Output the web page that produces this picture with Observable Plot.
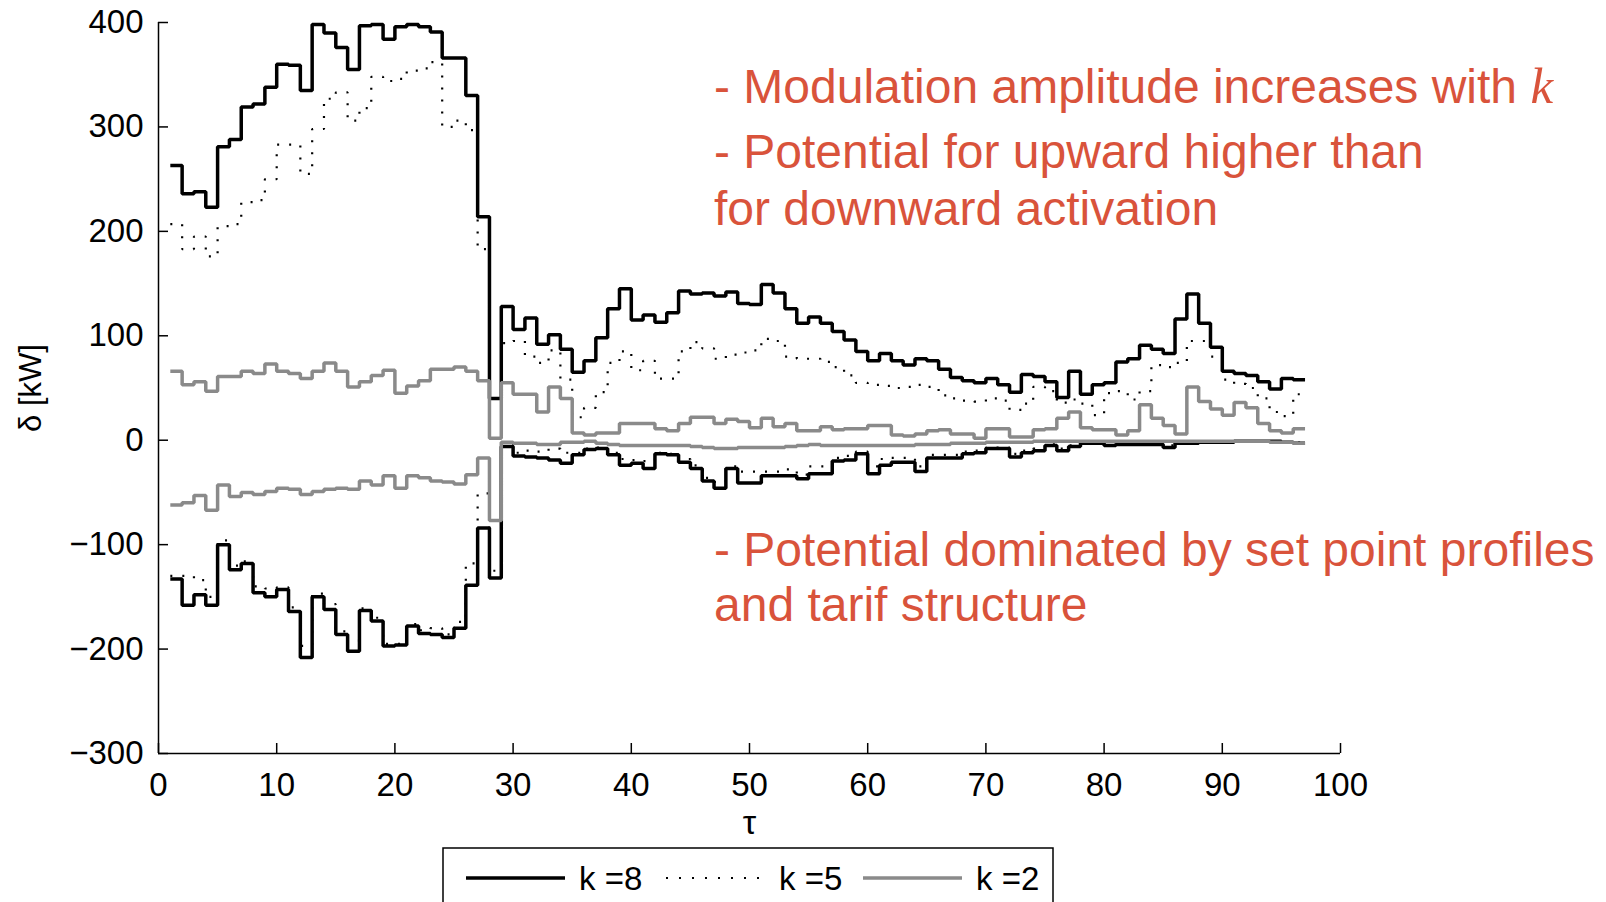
<!DOCTYPE html>
<html><head><meta charset="utf-8">
<script src="https://cdn.jsdelivr.net/npm/d3@7"></script>
<script src="https://cdn.jsdelivr.net/npm/@observablehq/plot@0.6"></script>
<style>
body{margin:0;background:#fff;}
#wrap{position:relative;width:1606px;height:902px;overflow:hidden;font-family:"Liberation Sans",Arial,sans-serif;}
#wrap svg{position:absolute;left:0;top:0;}
.note{position:absolute;left:714px;color:#d9533b;font-size:48px;line-height:48px;white-space:nowrap;}
.note i{font-family:"Liberation Serif",serif;font-style:italic;font-size:51px;}
</style></head><body><div id="wrap"></div>
<script>
// step boundaries tau = 1..97 (96 steps)
const tau = d3.range(1, 98);
const xTicks = [0, 10, 20, 30, 40, 50, 60, 70, 80, 90, 100];
const yTicks = [-300, -200, -100, 0, 100, 200, 300, 400];

const k8Upper = [263,236,238,223,281,288,319,322,338,360,
  359,335,398,390,376,355,397,398,384,396,
  398,396,391,366,366,330,214,40,128,106,
  117,92,101,87,65,76,98,126,145,115,
  120,113,122,143,140,141,138,142,131,130,
  149,141,126,112,118,112,104,96,85,76,
  83,76,72,78,76,68,60,57,55,59,
  53,46,63,61,56,41,66,44,53,55,
  75,78,91,87,83,116,140,112,89,66,
  64,62,56,49,59,58];
const k8Lower = [-133,-158,-148,-158,-100,-124,-118,-146,-150,-143,
  -164,-208,-150,-162,-186,-202,-163,-173,-197,-196,
  -178,-185,-186,-189,-180,-139,-84,-132,-6,-15,
  -16,-17,-19,-22,-14,-9,-8,-14,-24,-22,
  -27,-13,-14,-21,-27,-39,-46,-27,-41,-41,
  -34,-34,-34,-37,-32,-32,-20,-19,-13,-32,
  -24,-21,-21,-30,-17,-17,-17,-13,-12,-8,
  -8,-16,-12,-10,-5,-10,-6,-3,-3,-5,
  -4,-4,-4,-4,-7,-3,-3,-2,-2,-2,
  -1,-1,-1,-1,-2,-3];
const k5Upper = [207,183,195,176,205,207,228,230,250,283,
  283,255,298,327,333,306,318,348,344,346,
  354,356,362,300,306,297,183,38,93,95,
  80,74,86,58,22,31,46,74,85,67,
  76,59,59,85,94,88,78,82,84,86,
  97,95,80,78,78,75,70,62,55,53,
  52,50,51,53,51,43,40,38,37,40,
  38,29,35,51,47,36,39,35,24,45,
  47,39,47,72,70,74,95,95,80,58,
  54,50,40,27,23,44];
const k5Lower = [-130,-130,-134,-150,-96,-120,-116,-140,-142,-141,
  -160,-197,-147,-157,-183,-192,-161,-170,-195,-195,
  -176,-182,-180,-186,-174,-118,-51,-125,-5,-12,
  -10,-11,-8,-12,-12,-8,-7,-12,-18,-19,
  -20,-12,-13,-18,-24,-36,-40,-25,-30,-30,
  -30,-30,-28,-33,-25,-25,-17,-15,-11,-25,
  -18,-17,-17,-25,-14,-14,-14,-11,-10,-7,
  -7,-13,-10,-8,-4,-8,-5,-3,-3,-4,
  -3,-3,-3,-3,-5,-2,-2,-2,-1,-1,
  -1,-1,-1,-1,-2,-2];
const k2Upper = [66,53,56,47,61,61,66,64,73,66,
  64,59,66,74,66,51,56,62,67,45,
  52,57,68,68,70,66,57,2,55,44,
  44,27,51,40,7,5,7,7,16,16,
  16,11,9,16,22,22,16,20,18,12,
  21,13,16,9,9,13,10,11,11,14,
  14,5,4,6,9,10,6,6,2,11,
  11,3,3,10,11,21,27,12,10,10,
  5,9,34,21,14,6,51,37,30,24,
  36,31,16,9,7,11];
const k2Lower = [-62,-60,-53,-67,-43,-54,-50,-52,-49,-46,
  -47,-52,-49,-47,-46,-47,-39,-43,-34,-46,
  -34,-36,-39,-40,-42,-33,-17,-77,-2,-3,
  -3,-4,-4,-2,-2,-1,-3,-4,-5,-5,
  -5,-5,-5,-5,-6,-7,-8,-8,-7,-7,
  -7,-7,-6,-5,-4,-5,-5,-5,-5,-5,
  -5,-5,-5,-4,-4,-4,-3,-3,-3,-2,
  -2,-2,-2,-1,-1,-1,-1,-1,-1,-1,
  -1,-1,-1,-1,-1,-1,-1,-1,-1,-1,
  -1,-1,-1,-2,-2,-3];

const seriesNames = ["k =8", "k =5", "k =2"];
const series = [
  {k: "k =8", bound: "up", values: k8Upper},
  {k: "k =8", bound: "low", values: k8Lower},
  {k: "k =5", bound: "up", values: k5Upper},
  {k: "k =5", bound: "low", values: k5Lower},
  {k: "k =2", bound: "up", values: k2Upper},
  {k: "k =2", bound: "low", values: k2Lower}
];
const rows = series.flatMap(s => tau.map((t, i) => ({
  tau: t,
  delta: s.values[Math.min(i, s.values.length - 1)],
  k: s.k,
  id: s.k + s.bound
})));

const styles = {
  "k =8": {stroke: "#000", strokeWidth: 3.5, dash: null},
  "k =5": {stroke: "#000", strokeWidth: 2.2, dash: "2,10"},
  "k =2": {stroke: "#8a8a8a", strokeWidth: 3.5, dash: null}
};

const font = '"Liberation Sans", Arial, sans-serif';
const lineMark = name => Plot.line(rows.filter(d => d.k === name), {
  x: "tau", y: "delta", z: "id", curve: "step-after",
  stroke: styles[name].stroke, strokeWidth: styles[name].strokeWidth,
  strokeDasharray: styles[name].dash, strokeLinecap: "butt", strokeLinejoin: "miter"
});

const chart = Plot.plot({
  width: 1606, height: 902,
  marginLeft: 158, marginRight: 266, marginTop: 22, marginBottom: 149,
  x: {domain: [0, 100]},
  y: {domain: [-300, 400]},
  style: {fontFamily: font, fontSize: "33px", color: "#000", background: "transparent", overflow: "visible"},
  marks: [
    Plot.ruleX([0], {stroke: "#000", strokeWidth: 1.5}),
    Plot.ruleY([-300], {stroke: "#000", strokeWidth: 1.5}),
    Plot.axisY({ticks: yTicks, tickSize: -10, tickPadding: 25, label: null, strokeWidth: 1.5, fontSize: 33}),
    Plot.axisX({ticks: xTicks, tickSize: -10, tickPadding: 29, label: null, strokeWidth: 1.5, fontSize: 33}),
    lineMark("k =8"),
    lineMark("k =5"),
    lineMark("k =2"),
    Plot.text(["τ"], {text: d => d, frameAnchor: "bottom", dy: 80, fontSize: 34, textAnchor: "middle"}),
    Plot.text(["δ [kW]"], {text: d => d, frameAnchor: "left", dx: -127, rotate: -90, fontSize: 31, textAnchor: "middle"})
  ]
});
const wrap = document.getElementById("wrap");
wrap.appendChild(chart);

// annotations
const notes = [
  {top: 62, html: '- Modulation amplitude increases with <i>k</i>'},
  {top: 128, html: '- Potential for upward higher than'},
  {top: 185, html: 'for downward activation'},
  {top: 526, html: '- Potential dominated by set point profiles'},
  {top: 581, html: 'and tarif structure'}
];
notes.forEach(n => {
  const d = document.createElement("div");
  d.className = "note";
  d.style.top = n.top + "px";
  d.innerHTML = n.html;
  wrap.appendChild(d);
});

// legend
const leg = d3.select(wrap).append("svg").attr("width", 1606).attr("height", 902)
  .style("pointer-events", "none");
leg.append("rect").attr("x", 443).attr("y", 848).attr("width", 610).attr("height", 90)
  .attr("fill", "#fff").attr("stroke", "#000").attr("stroke-width", 1.5);
const legX = [466, 666, 863];
seriesNames.forEach((name, i) => {
  const st = styles[name];
  leg.append("line").attr("x1", legX[i]).attr("x2", legX[i] + 99).attr("y1", 878).attr("y2", 878)
    .attr("stroke", st.stroke).attr("stroke-width", st.strokeWidth)
    .attr("stroke-dasharray", st.dash ? "2,11" : null);
  leg.append("text").attr("x", legX[i] + 113).attr("y", 878).attr("dy", "0.35em")
    .attr("font-family", font).attr("font-size", 33).text(name);
});
</script>
</body></html>
